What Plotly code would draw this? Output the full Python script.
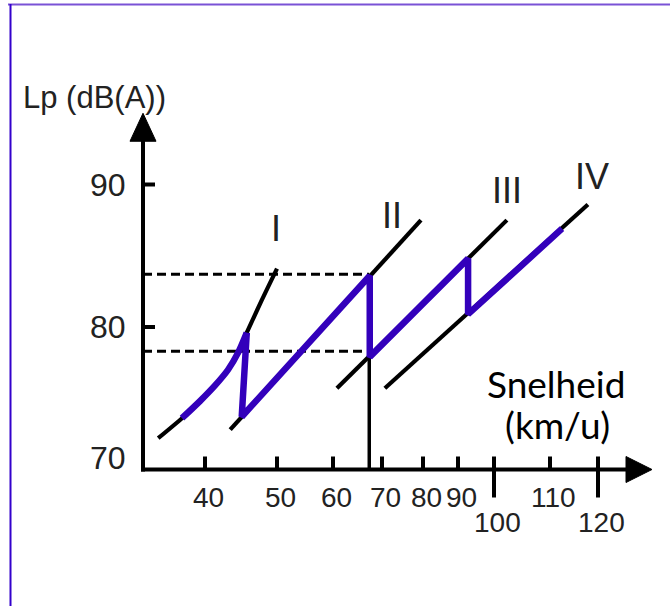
import numpy as np
import plotly.graph_objects as go

# ---------------- data ----------------
x_tick_values = [40, 50, 60, 70, 80, 90, 100, 110, 120]          # km/u
x_tick_labels = ["40", "50", "60", "70", "80", "90", "100", "110", "120"]
x_tick_long = [False, False, False, False, False, False, True, False, True]
y_tick_values = [90, 80, 70]                                        # dB(A)
y_tick_labels = ["90", "80", "70"]

gear_names = ["I", "II", "III", "IV"]
gear1_speed = [33.5, 36.8, 39.3, 41.4, 43.2, 44.6, 45.8, 47.9, 50.0]
gear1_lp = [72.2, 73.6, 74.8, 75.9, 77.0, 78.2, 79.6, 81.9, 84.1]
gear2_speed = [43.5, 79.5]
gear2_lp = [72.8, 87.5]
gear3_speed = [60.8, 102.3]
gear3_lp = [75.7, 87.5]
gear4_speed = [70.7, 117.9]
gear4_lp = [75.7, 88.6]

# shifting path (purple): curved part on gear I, then straight shifts
path1_speed = [36.8, 39.3, 41.4, 43.2, 44.6, 45.8]
path1_lp = [73.6, 74.8, 75.9, 77.0, 78.2, 79.6]
path2_speed = [45.8, 45.1, 67.5, 67.5, 92.8, 92.8, 112.5]
path2_lp = [79.6, 73.7, 83.6, 77.9, 84.8, 80.9, 86.9]

# dashed reference levels and shift-speed marker
level_lp = [83.7, 78.3]
shift_speed = 67.4
shift_lp_low = 77.9

# ---------------- hand-drawn (non-linear) speed scale ----------------
TICK_POS = [205, 277, 333, 382, 423, 458, 494, 550, 598]   # position of each speed tick


def pos(speed):
    s = np.atleast_1d(np.asarray(speed, dtype=float))
    p = np.interp(s, x_tick_values, TICK_POS)
    lo = s < x_tick_values[0]
    hi = s > x_tick_values[-1]
    p[lo] = TICK_POS[0] - (x_tick_values[0] - s[lo]) * 7.2
    p[hi] = TICK_POS[-1] + (s[hi] - x_tick_values[-1]) * 4.8
    return p


X_ORIGIN = 143       # axis position of the y axis
X_TIP = 652          # x-arrow tip
Y_ORIGIN = 70
Y_TIP = 95.0
DB_PER_PX = 1 / 14.25

BLACK = "#000000"
PURPLE = "#3300bb"
TXT = "#222222"
ARIAL = "Liberation Sans, Arial, sans-serif"

fig = go.Figure()

# dashed reference levels
for lv in level_lp:
    fig.add_trace(go.Scatter(x=[X_ORIGIN, pos(shift_speed)[0]], y=[lv, lv], mode="lines",
                             line=dict(color=BLACK, width=3, dash="9px,5px"),
                             hoverinfo="skip", showlegend=False))

# vertical shift-speed marker
fig.add_trace(go.Scatter(x=list(pos([shift_speed, shift_speed])), y=[Y_ORIGIN, shift_lp_low],
                         mode="lines", line=dict(color=BLACK, width=3.5),
                         hoverinfo="skip", showlegend=False))

# gear lines
gears = [(gear1_speed, gear1_lp), (gear2_speed, gear2_lp),
         (gear3_speed, gear3_lp), (gear4_speed, gear4_lp)]
for sp, lp in gears:
    fig.add_trace(go.Scatter(x=list(pos(sp)), y=lp, mode="lines",
                             line=dict(color=BLACK, width=4.2, shape="spline", smoothing=0.8),
                             hoverinfo="skip", showlegend=False))

# purple path
fig.add_trace(go.Scatter(x=list(pos(path1_speed)), y=path1_lp, mode="lines",
                         line=dict(color=PURPLE, width=6.5, shape="spline", smoothing=0.8),
                         hoverinfo="skip", showlegend=False))
fig.add_trace(go.Scatter(x=list(pos(path2_speed)), y=path2_lp, mode="lines",
                         line=dict(color=PURPLE, width=6.5),
                         hoverinfo="skip", showlegend=False))

# axes lines
fig.add_trace(go.Scatter(x=[X_ORIGIN - 2, X_TIP - 20], y=[Y_ORIGIN, Y_ORIGIN], mode="lines",
                         line=dict(color=BLACK, width=4), hoverinfo="skip", showlegend=False))
fig.add_trace(go.Scatter(x=[X_ORIGIN, X_ORIGIN], y=[Y_ORIGIN - 2 * DB_PER_PX, Y_TIP - 20 * DB_PER_PX],
                         mode="lines", line=dict(color=BLACK, width=4),
                         hoverinfo="skip", showlegend=False))
# arrowheads
fig.add_trace(go.Scatter(x=[X_TIP, X_TIP - 26, X_TIP - 26, X_TIP],
                         y=[Y_ORIGIN, Y_ORIGIN + 13 * DB_PER_PX, Y_ORIGIN - 13 * DB_PER_PX, Y_ORIGIN],
                         mode="lines", fill="toself", fillcolor=BLACK, line=dict(color=BLACK, width=1),
                         hoverinfo="skip", showlegend=False))
fig.add_trace(go.Scatter(x=[X_ORIGIN, X_ORIGIN - 13, X_ORIGIN + 13, X_ORIGIN],
                         y=[Y_TIP, Y_TIP - 28 * DB_PER_PX, Y_TIP - 28 * DB_PER_PX, Y_TIP],
                         mode="lines", fill="toself", fillcolor=BLACK, line=dict(color=BLACK, width=1),
                         hoverinfo="skip", showlegend=False))

shapes = []
# y ticks
for v in y_tick_values:
    if v == Y_ORIGIN:
        continue
    shapes.append(dict(type="line", xref="x", yref="y", xsizemode="pixel", xanchor=X_ORIGIN,
                       x0=0, x1=12, y0=v, y1=v, line=dict(color=BLACK, width=4)))
# x ticks
for v, longtick in zip(x_tick_values, x_tick_long):
    p = pos(v)[0]
    shapes.append(dict(type="line", xref="x", yref="y", ysizemode="pixel", yanchor=Y_ORIGIN,
                       x0=p, x1=p, y0=(-28 if longtick else 0), y1=13,
                       line=dict(color=BLACK, width=4)))
# frame
shapes.append(dict(type="line", xref="paper", yref="paper", x0=8 / 670, x1=1, y0=1 - 4.5 / 606, y1=1 - 4.5 / 606,
                   line=dict(color="#7a52d6", width=2)))
shapes.append(dict(type="line", xref="paper", yref="paper", x0=10.5 / 670, x1=10.5 / 670, y0=0, y1=1 - 4 / 606,
                   line=dict(color="#3300cc", width=2)))

annotations = []
for v, t, longtick in zip(x_tick_values, x_tick_labels, x_tick_long):
    annotations.append(dict(x=pos(v)[0], y=Y_ORIGIN, xref="x", yref="y", text=t, showarrow=False,
                            xanchor="center", yanchor="middle", yshift=(-53 if longtick else -28),
                            xshift=3, font=dict(family=ARIAL, size=28, color=TXT)))
for v, t in zip(y_tick_values, y_tick_labels):
    annotations.append(dict(x=X_ORIGIN, y=v, xref="x", yref="y", text=t, showarrow=False,
                            xanchor="right", yanchor="middle", xshift=-15,
                            yshift=(12 if v == Y_ORIGIN else 0),
                            font=dict(family=ARIAL, size=32, color=TXT)))

label_shift = [(-1, 40), (-29, 5), (0, 30), (4, 28)]
for name, (sp, lp), (dx, dy) in zip(gear_names, gears, label_shift):
    annotations.append(dict(x=pos(sp[-1])[0], y=lp[-1], xref="x", yref="y", text=name, showarrow=False,
                            xanchor="center", yanchor="middle", xshift=dx, yshift=dy,
                            font=dict(family=ARIAL, size=36, color=TXT)))

annotations.append(dict(x=21 / 670, y=1 - 98 / 606, xref="paper", yref="paper", text="Lp (dB(A))",
                        showarrow=False, xanchor="left", yanchor="middle",
                        font=dict(family=ARIAL, size=31, color=TXT)))
annotations.append(dict(x=556 / 670, y=1 - 383 / 606, xref="paper", yref="paper", text="Snelheid",
                        showarrow=False, xanchor="center", yanchor="middle",
                        font=dict(family="Lato, sans-serif", size=37, color=BLACK)))
annotations.append(dict(x=557 / 670, y=1 - 424 / 606, xref="paper", yref="paper", text="(km/u)",
                        showarrow=False, xanchor="center", yanchor="middle",
                        font=dict(family="Lato, sans-serif", size=37, color=BLACK)))

y_lo = Y_ORIGIN - (606 - 469.5) * DB_PER_PX
y_hi = Y_ORIGIN + 469.5 * DB_PER_PX
fig.update_layout(
    width=670, height=606, margin=dict(l=0, r=0, t=0, b=0),
    paper_bgcolor="white", plot_bgcolor="white",
    xaxis=dict(range=[0, 670], visible=False, fixedrange=True),
    yaxis=dict(range=[y_lo, y_hi], visible=False, fixedrange=True),
    shapes=shapes, annotations=annotations, showlegend=False,
)

fig.write_html("out.html", config={"displayModeBar": False},
               post_script="document.body.style.margin='0px';document.body.style.padding='0px';")
